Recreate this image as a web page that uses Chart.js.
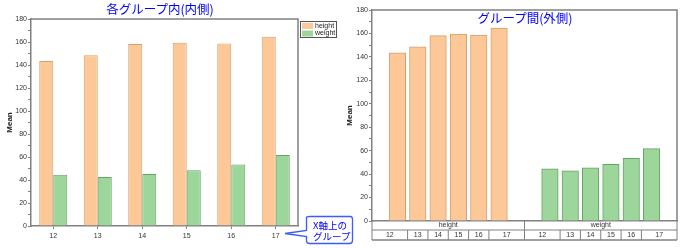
<!DOCTYPE html>
<html lang="ja">
<head>
<meta charset="utf-8">
<script src="https://cdn.jsdelivr.net/npm/chart.js@4.4.1/dist/chart.umd.min.js"></script>
<style>
    body { margin: 0; background: #fff; width: 680px; height: 248px; overflow: hidden; position: relative; }
    canvas { position: absolute; top: 0; }
    #graficoIzq { left: 0; }
    #graficoDer { left: 340px; }
    .titulo { position: absolute; color: #0000ff; font-family: "Noto Sans CJK JP", sans-serif; font-size: 12.5px; line-height: 13px; white-space: nowrap; transform: translateX(-50%); }
    #callout { position: absolute; left: 280px; top: 212px; }
</style>
</head>
<body>
<canvas id="graficoIzq" width="340" height="248"></canvas>
<canvas id="graficoDer" width="340" height="248"></canvas>
<div class="titulo" style="left:160px; top:2px;">各グループ内(内側)</div>
<div class="titulo" style="left:525px; top:11px;">グループ間(外側)</div>
<svg id="callout" width="76" height="36">
    <path d="M26.5 5.5 Q26.5 4.5 29.5 4.5 L70.5 4.5 Q72.5 4.5 72.5 7.5 L72.5 28.5 Q72.5 31.5 69.5 31.5 L29.5 31.5 Q26.5 31.5 26.5 28.5 L26.5 24.5 L5 21.5 L26.5 18.5 Z"
          fill="#fff" stroke="#3a5cff" stroke-width="1.3"/>
    <text x="33" y="17" fill="#0000ff" font-family="Noto Sans CJK JP" font-size="9.5">X軸上の</text>
    <text x="33" y="28" fill="#0000ff" font-family="Noto Sans CJK JP" font-size="9.5">グループ</text>
</svg>
<script>
// Datos
const categorias = ['12', '13', '14', '15', '16', '17'];
const grupos = ['height', 'weight'];
const alturaMedia = [143.5, 148.5, 158.2, 159.4, 158.7, 164.5];
const pesoMedio = [44.5, 42.7, 45.3, 48.4, 53.4, 61.8];
const ejeY = { min: 0, max: 180, paso: 20 };

// Colores
const colores = {
    naranja: '#fcc897',
    naranjaBorde: '#d6a171',
    verde: '#9dd69b',
    verdeBorde: '#66a466',
    eje: '#808080',
    texto: '#333333'
};

Chart.defaults.font.family = '"Liberation Sans", Arial, sans-serif';
Chart.defaults.font.size = 7;
Chart.defaults.color = colores.texto;

// separación de grupos en el gráfico derecho (en unidades del eje x)
const desplazamientoGrupo = 7.5;
const margenGrupo = 1.25;

const ejeYComun = (ancho) => ({
    min: ejeY.min,
    max: ejeY.max,
    ticks: {
        stepSize: ejeY.paso / 2,
        autoSkip: false,
        callback: v => (v % ejeY.paso === 0 ? v : ''),
        padding: 1,
        color: colores.texto
    },
    grid: { drawOnChartArea: false, tickLength: 3, color: colores.eje },
    border: { color: colores.eje, width: 1.5 },
    title: { display: true, text: 'Mean', color: '#222', font: { size: 8, weight: 'bold' }, padding: { top: 5, bottom: 0 } },
    afterFit(s) { s.width = ancho; }
});

// Marco superior y derecho del área de trazado
const marcoPlugin = {
    id: 'marco',
    afterDraw(chart) {
        const { ctx, chartArea: a } = chart;
        ctx.save();
        ctx.strokeStyle = colores.eje;
        ctx.lineWidth = 1.5;
        ctx.beginPath();
        ctx.moveTo(a.left, a.top);
        ctx.lineTo(a.right, a.top);
        ctx.lineTo(a.right, a.bottom);
        ctx.stroke();
        ctx.restore();
    }
};

// Leyenda con recuadro
const leyendaPlugin = {
    id: 'leyenda',
    afterDraw(chart) {
        const { ctx, chartArea: a } = chart;
        const x = a.right + 2, y = a.top + 2;
        ctx.save();
        ctx.strokeStyle = '#555';
        ctx.lineWidth = 1;
        ctx.strokeRect(x + 0.5, y + 0.5, 36, 16);
        chart.data.datasets.forEach((ds, i) => {
            const yy = y + 2 + i * 7.5;
            ctx.fillStyle = ds.backgroundColor;
            ctx.fillRect(x + 2, yy, 11, 6);
            ctx.fillStyle = '#222';
            ctx.font = '7px "Liberation Sans", Arial, sans-serif';
            ctx.textBaseline = 'middle';
            ctx.fillText(ds.label, x + 15, yy + 3);
        });
        ctx.restore();
    }
};

// Tabla de etiquetas bajo el eje x (grupo y categoría)
const tablaPlugin = {
    id: 'tabla',
    afterDraw(chart) {
        const { ctx, chartArea: a, scales: { x } } = chart;
        const y0 = a.bottom, y1 = a.bottom + 9, y2 = a.bottom + 19;
        const linea = (xa, ya, xb, yb) => {
            ctx.beginPath();
            ctx.moveTo(xa, ya);
            ctx.lineTo(xb, yb);
            ctx.stroke();
        };
        ctx.save();
        ctx.strokeStyle = colores.eje;
        ctx.lineWidth = 1;
        ctx.fillStyle = colores.texto;
        ctx.font = '7px "Liberation Sans", Arial, sans-serif';
        ctx.textAlign = 'center';
        ctx.textBaseline = 'middle';
        linea(a.left, y1, a.right, y1);
        linea(a.left, y0, a.left, y2);
        linea(a.right, y0, a.right, y2);
        const n = categorias.length;
        grupos.forEach((g, gi) => {
            const inicio = gi * desplazamientoGrupo;
            const fin = inicio + n - 1;
            const izq = gi === 0 ? x.min : (inicio + (gi - 1) * desplazamientoGrupo + n - 1) / 2;
            const der = gi === grupos.length - 1 ? x.max : (fin + (gi + 1) * desplazamientoGrupo) / 2;
            const pIzq = x.getPixelForValue(izq), pDer = x.getPixelForValue(der);
            if (gi > 0) linea(pIzq, y0, pIzq, y2);
            ctx.fillText(g, (pIzq + pDer) / 2, y0 + 4.5);
            categorias.forEach((c, i) => {
                const cIzq = i === 0 ? izq : inicio + i - 0.5;
                const cDer = i === n - 1 ? der : inicio + i + 0.5;
                const px1 = x.getPixelForValue(cIzq), px2 = x.getPixelForValue(cDer);
                if (i > 0) linea(px1, y1, px1, y2);
                ctx.fillText(c, (px1 + px2) / 2, y1 + 5);
            });
        });
        ctx.lineWidth = 1.5;
        linea(a.left, y2, a.right, y2);
        ctx.restore();
    }
};

// Gráfico izquierdo: agrupado dentro de cada categoría
new Chart(document.getElementById('graficoIzq'), {
    type: 'bar',
    data: {
        labels: categorias,
        datasets: [
            { label: grupos[0], data: alturaMedia, backgroundColor: colores.naranja, borderColor: colores.naranjaBorde, borderWidth: 1, categoryPercentage: 0.63, barPercentage: 1 },
            { label: grupos[1], data: pesoMedio, backgroundColor: colores.verde, borderColor: colores.verdeBorde, borderWidth: 1, categoryPercentage: 0.63, barPercentage: 1 }
        ]
    },
    options: {
        responsive: false,
        animation: false,
        layout: { padding: { left: 0, top: 19, right: 42, bottom: 0 } },
        plugins: { legend: { display: false }, tooltip: { enabled: false } },
        scales: {
            x: {
                grid: { drawOnChartArea: false, offset: false, tickLength: 3, color: colores.eje },
                border: { color: colores.eje, width: 1.5 },
                ticks: { padding: 3, color: colores.texto },
                afterFit(s) { s.height = 22; }
            },
            y: ejeYComun(31)
        }
    },
    plugins: [marcoPlugin, leyendaPlugin]
});

// Gráfico derecho: agrupado por variable
const puntos = (valores, gi) => valores.map((v, i) => ({ x: gi * desplazamientoGrupo + i, y: v }));

new Chart(document.getElementById('graficoDer'), {
    type: 'bar',
    data: {
        datasets: [
            { label: grupos[0], data: puntos(alturaMedia, 0), backgroundColor: colores.naranja, borderColor: colores.naranjaBorde, borderWidth: 1, grouped: false, barThickness: 16.5 },
            { label: grupos[1], data: puntos(pesoMedio, 1), backgroundColor: colores.verde, borderColor: colores.verdeBorde, borderWidth: 1, grouped: false, barThickness: 16.5 }
        ]
    },
    options: {
        responsive: false,
        animation: false,
        layout: { padding: { left: 0, top: 10, right: 3, bottom: 0 } },
        plugins: { legend: { display: false }, tooltip: { enabled: false } },
        scales: {
            x: {
                type: 'linear',
                offset: false,
                min: -margenGrupo,
                max: desplazamientoGrupo + categorias.length - 1 + margenGrupo,
                grid: { display: false, offset: false },
                border: { color: colores.eje, width: 1.5 },
                ticks: { display: false },
                afterFit(s) { s.height = 27; }
            },
            y: ejeYComun(32)
        }
    },
    plugins: [marcoPlugin, tablaPlugin]
});
</script>
</body>
</html>
